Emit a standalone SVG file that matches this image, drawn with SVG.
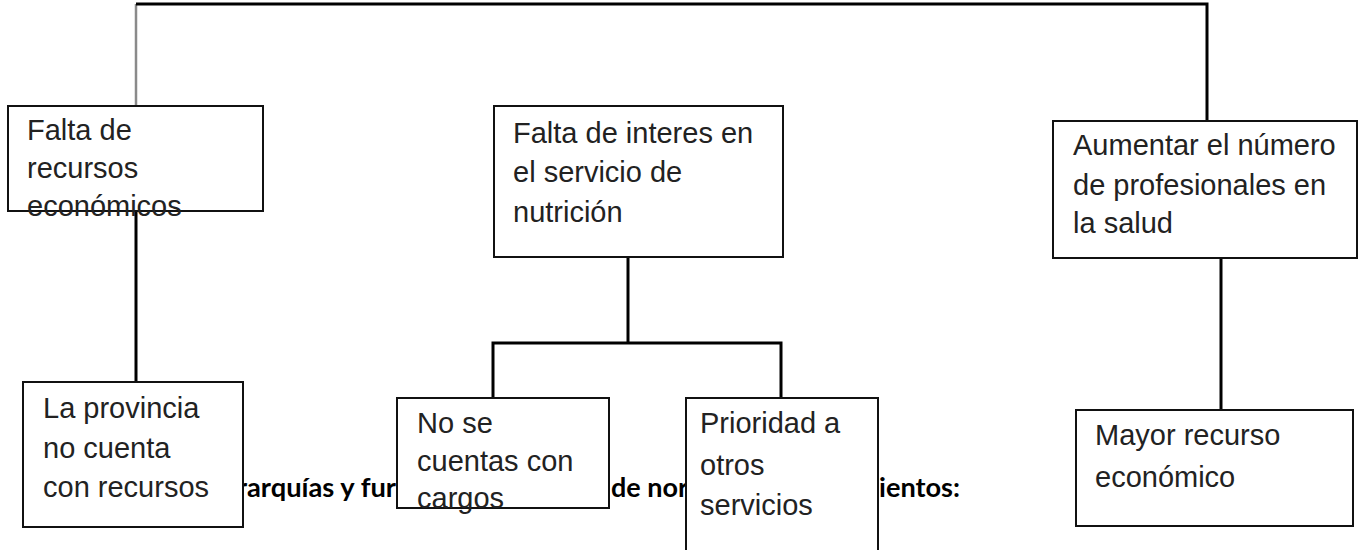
<svg xmlns="http://www.w3.org/2000/svg" width="1359" height="550" viewBox="0 0 1359 550">
<style>
.bg{fill:#ffffff}
.box{fill:#ffffff;stroke:#111111;stroke-width:2}
.lbl{font-family:"Liberation Sans",Arial,sans-serif;font-size:29px;fill:#222222}
.doc{font-family:Lato,"Liberation Sans",sans-serif;font-weight:700;font-size:26.5px;fill:#000000}
.conn{fill:none;stroke:#000000;stroke-width:3}
.conn-gray{fill:none;stroke:#8a8a8a;stroke-width:2.5}
</style>
<rect class="bg" x="0" y="0" width="1359" height="550"/>
<g id="background-text">
<text class="doc" x="237" y="497" textLength="159" lengthAdjust="spacingAndGlyphs">rarquías y fur</text>
<text class="doc" x="611" y="497" textLength="77" lengthAdjust="spacingAndGlyphs">de nor</text>
<text class="doc" x="879" y="497" textLength="81" lengthAdjust="spacingAndGlyphs">ientos:</text>
</g>
<g id="connectors">
<path class="conn-gray" d="M136,4 V106"/>
<path class="conn" d="M136,4 H1207 V121"/>
<path class="conn" d="M136,211 V382"/>
<path class="conn" d="M628,257 V343"/>
<path class="conn" d="M493,398 V343 H781 V398"/>
<path class="conn" d="M1221,258 V410"/>
</g>
<g id="node-falta-recursos">
<rect class="box" x="8" y="106" width="255" height="105"/>
<text class="lbl"><tspan x="27" y="140">Falta de</tspan><tspan x="27" y="178">recursos</tspan><tspan x="27" y="216">económicos</tspan></text>
</g>
<g id="node-falta-interes">
<rect class="box" x="494" y="106" width="289" height="151"/>
<text class="lbl"><tspan x="513" y="143">Falta de interes en</tspan><tspan x="513" y="182">el servicio de</tspan><tspan x="513" y="222">nutrición</tspan></text>
</g>
<g id="node-aumentar">
<rect class="box" x="1053" y="121" width="304" height="137"/>
<text class="lbl"><tspan x="1073" y="155">Aumentar el número</tspan><tspan x="1073" y="195">de profesionales en</tspan><tspan x="1073" y="233">la salud</tspan></text>
</g>
<g id="node-provincia">
<rect class="box" x="23" y="382" width="220" height="145"/>
<text class="lbl"><tspan x="43" y="418">La provincia</tspan><tspan x="43" y="458">no cuenta</tspan><tspan x="43" y="497">con recursos</tspan></text>
</g>
<g id="node-no-se">
<rect class="box" x="397" y="398" width="212" height="110"/>
<text class="lbl"><tspan x="417" y="433">No se</tspan><tspan x="417" y="471">cuentas con</tspan><tspan x="417" y="508">cargos</tspan></text>
</g>
<g id="node-prioridad">
<rect class="box" x="686" y="398" width="192" height="170"/>
<text class="lbl"><tspan x="700" y="433">Prioridad a</tspan><tspan x="700" y="475">otros</tspan><tspan x="700" y="515">servicios</tspan></text>
</g>
<g id="node-mayor">
<rect class="box" x="1076" y="410" width="277" height="116"/>
<text class="lbl"><tspan x="1095" y="445">Mayor recurso</tspan><tspan x="1095" y="487">económico</tspan></text>
</g>
</svg>
